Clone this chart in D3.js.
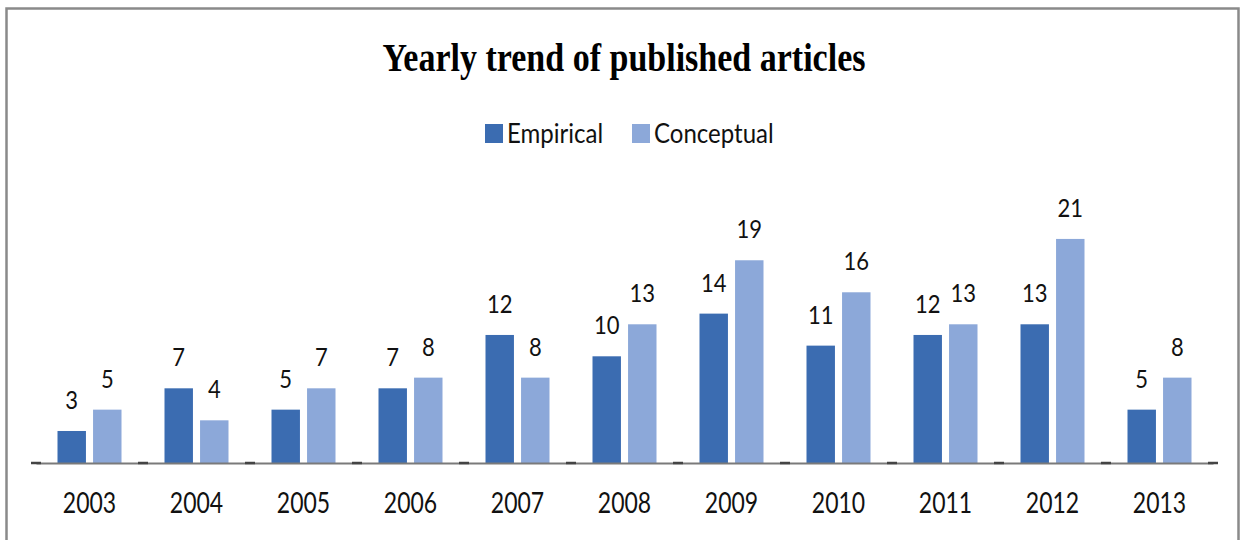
<!DOCTYPE html>
<html>
<head>
<meta charset="utf-8">
<script src="https://cdn.jsdelivr.net/npm/d3@7"></script>
<style>
  body { margin: 0; background: #fff; }
  svg { display: block; }
</style>
</head>
<body>
<svg id="chart" width="1245" height="540"></svg>
<script>
// data
const years = ["2003","2004","2005","2006","2007","2008","2009","2010","2011","2012","2013"];
const empirical  = [3, 7, 5, 7, 12, 10, 14, 11, 12, 13, 5];
const conceptual = [5, 4, 7, 8, 8, 13, 19, 16, 13, 21, 8];
const seriesNames = ["Empirical", "Conceptual"];
const colors = ["#3b6cb1", "#8ca8d9"];

const svg = d3.select("#chart");
const baseY = 463;

// squash text horizontally (the source picture is narrow-looking)
function squish(sel, k) {
  sel.each(function () {
    const w = this.getComputedTextLength();
    d3.select(this).attr("textLength", w * k).attr("lengthAdjust", "spacingAndGlyphs");
  });
}

// outer frame
svg.append("rect")
  .attr("x", 6.5).attr("y", 8.5)
  .attr("width", 1232).attr("height", 560)
  .attr("fill", "none")
  .attr("stroke", "#8a8a8a")
  .attr("stroke-width", 2.5);

const x0 = d3.scaleBand().domain(years).range([36, 1213]);
const x1 = d3.scaleBand().domain(seriesNames).range([21.5, 85.5]).paddingInner(0.2);
const y = d3.scaleLinear().domain([0, 25]).range([baseY, baseY - 25 * 10.67]);

const rows = years.map((yr, i) => ({ year: yr, vals: [empirical[i], conceptual[i]] }));

const groups = svg.selectAll("g.year")
  .data(rows)
  .join("g")
    .attr("class", "year")
    .attr("transform", d => `translate(${x0(d.year)},0)`);

groups.selectAll("rect")
  .data(d => d.vals.map((v, j) => ({ name: seriesNames[j], v, j })))
  .join("rect")
    .attr("x", d => x1(d.name))
    .attr("y", d => y(d.v))
    .attr("width", x1.bandwidth())
    .attr("height", d => baseY - y(d.v))
    .attr("fill", d => colors[d.j]);

const labels = groups.selectAll("text.val")
  .data(d => d.vals.map((v, j) => ({ name: seriesNames[j], v, j })))
  .join("text")
    .attr("class", "val")
    .attr("x", d => x1(d.name) + x1.bandwidth() / 2)
    .attr("y", d => y(d.v) - 22)
    .attr("text-anchor", "middle")
    .attr("font-family", "Lato, 'Open Sans', sans-serif")
    .attr("font-size", 25)
    .attr("fill", "#111")
    .text(d => d.v);
squish(labels, 0.88);

// x axis
const axis = svg.append("g")
  .attr("transform", `translate(0,${baseY})`)
  .call(d3.axisBottom(x0).tickSize(0).tickPadding(30));
axis.select(".domain").attr("stroke", "#7a7a7a").attr("stroke-width", 2);
axis.selectAll(".tick text")
  .attr("font-family", "Lato, 'Open Sans', sans-serif")
  .attr("font-size", 28)
  .attr("fill", "#111");
squish(axis.selectAll(".tick text"), 0.82);

// darker tick marks at category boundaries
svg.selectAll("line.bnd")
  .data(years.map(yr => x0(yr)).concat([x0.range()[1]]))
  .join("line")
    .attr("class", "bnd")
    .attr("x1", d => d - 5).attr("x2", d => d + 5)
    .attr("y1", baseY).attr("y2", baseY)
    .attr("stroke", "#444")
    .attr("stroke-width", 2.5);

// title
const title = svg.append("text")
  .attr("x", 624).attr("y", 71)
  .attr("text-anchor", "middle")
  .attr("font-family", "'Liberation Serif', 'Times New Roman', serif")
  .attr("font-weight", "bold")
  .attr("font-size", 40)
  .attr("fill", "#000")
  .text("Yearly trend of published articles");
squish(title, 0.85);

// legend
const legendX = [485, 632];
const legend = svg.selectAll("g.leg")
  .data(seriesNames)
  .join("g")
    .attr("class", "leg")
    .attr("transform", (d, i) => `translate(${legendX[i]},124)`);
legend.append("rect")
  .attr("width", 18).attr("height", 19)
  .attr("fill", (d, i) => colors[i]);
const legText = legend.append("text")
  .attr("x", 22).attr("y", 19)
  .attr("font-family", "Lato, 'Open Sans', sans-serif")
  .attr("font-size", 27)
  .attr("fill", "#111")
  .text(d => d);
squish(legText, 0.89);
</script>
</body>
</html>
